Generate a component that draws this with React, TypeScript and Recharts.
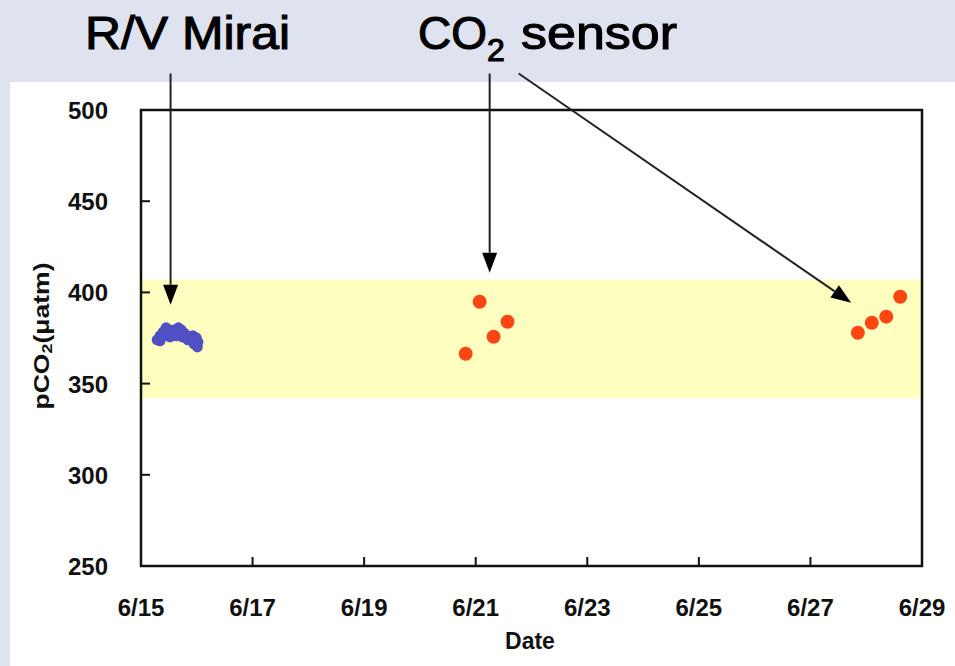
import React from "react";
import { ScatterChart, Scatter, XAxis, YAxis, ReferenceArea, ReferenceLine } from "recharts";

// ---- data ----
const xTickDays = [15, 17, 19, 21, 23, 25, 27, 29];
const xTickLabels = ["6/15", "6/17", "6/19", "6/21", "6/23", "6/25", "6/27", "6/29"];
const yTicks = [250, 300, 350, 400, 450, 500];

const miraiDays = [15.29, 15.34, 15.40, 15.45, 15.50, 15.56, 15.61, 15.67, 15.72, 15.77, 15.83, 15.88, 15.93, 15.99, 16.02, 16.01, 15.95, 15.34, 15.43, 15.52, 15.63, 15.74, 15.84, 15.92];
const miraiValues = [374.0, 376.2, 378.4, 380.6, 379.5, 379.0, 379.5, 380.6, 379.5, 377.8, 376.2, 375.6, 376.2, 375.1, 372.8, 370.1, 371.8, 373.5, 376.2, 375.6, 376.2, 375.6, 374.0, 373.5];

const sensorDays = [20.82, 21.07, 21.32, 21.57, 27.85, 28.10, 28.36, 28.61];
const sensorValues = [366.4, 394.9, 375.7, 383.9, 377.9, 383.4, 386.7, 397.6];

const bandLow = 342;
const bandHigh = 407;

// annotation arrows (data coordinates): start day, start value, end day, end value
const arrowStartDays = [15.53, 21.25, 21.77];
const arrowStartValues = [520, 520, 520];
const arrowEndDays = [15.53, 21.25, 27.73];
const arrowEndValues = [393.2, 410.8, 394.3];

const mirai = miraiDays.map((d, i) => ({ day: d, value: miraiValues[i] }));
const sensor = sensorDays.map((d, i) => ({ day: d, value: sensorValues[i] }));

const FONT = "'Liberation Sans', Arial, sans-serif";

const XTick = (props: any) => {
  const { x, y, payload } = props;
  const idx = xTickDays.indexOf(payload.value);
  return (
    <g>
      <line x1={x} y1={y} x2={x} y2={y - 9} stroke="#111" strokeWidth={2} />
      <text x={x} y={y + 50} textAnchor="middle" fontSize={24} fontWeight="bold" fontFamily={FONT} fill="#111">
        {idx >= 0 ? xTickLabels[idx] : payload.value}
      </text>
    </g>
  );
};

const YTick = (props: any) => {
  const { x, y, payload } = props;
  return (
    <g>
      <line x1={x} y1={y} x2={x + 9} y2={y} stroke="#111" strokeWidth={2} />
      <text x={x - 33} y={y + 9} textAnchor="end" fontSize={24} fontWeight="bold" fontFamily={FONT} fill="#111">
        {payload.value}
      </text>
    </g>
  );
};

const Arrow = (props: any) => {
  const { x1, y1, x2, y2 } = props;
  const dx = x2 - x1;
  const dy = y2 - y1;
  const len = Math.sqrt(dx * dx + dy * dy) || 1;
  const ux = dx / len;
  const uy = dy / len;
  const hl = 20;
  const hw = 7.5;
  const bx = x2 - ux * hl;
  const by = y2 - uy * hl;
  const pts = `${x2},${y2} ${bx - uy * hw},${by + ux * hw} ${bx + uy * hw},${by - ux * hw}`;
  return (
    <g>
      <line x1={x1} y1={y1} x2={bx} y2={by} stroke="#222" strokeWidth={2} />
      <polygon points={pts} fill="#000" />
    </g>
  );
};

const Dot = (color: string, r: number) => (props: any) => (
  <circle cx={props.cx} cy={props.cy} r={r} fill={color} />
);

export default function App() {
  return (
    <div style={{ position: "absolute", left: 0, top: 0, width: 955, height: 666, background: "#dfe3ef", overflow: "hidden" }}>
      <div style={{ position: "absolute", left: 10, top: 82, width: 945, height: 584, background: "#ffffff" }} />
      <div style={{ position: "absolute", left: 0, top: 0 }}>
        <ScatterChart width={955} height={666} margin={{ top: 110, right: 33, bottom: 0, left: 0 }}>
          <XAxis
            type="number"
            dataKey="day"
            domain={[15, 29]}
            ticks={xTickDays}
            interval={0}
            allowDataOverflow
            axisLine={false}
            tickLine={false}
            tickSize={0}
            tickMargin={0}
            tick={<XTick />}
            height={100}
          />
          <YAxis
            type="number"
            dataKey="value"
            domain={[250, 500]}
            ticks={yTicks}
            interval={0}
            allowDataOverflow
            axisLine={false}
            tickLine={false}
            tickSize={0}
            tickMargin={0}
            tick={<YTick />}
            width={141}
          />
          <ReferenceArea x1={15} x2={29} y1={bandLow} y2={bandHigh} fill="#ffffbf" fillOpacity={1} stroke="none" ifOverflow="visible" />
          <Scatter data={mirai} fill="#5050c4" shape={Dot("#5050c4", 5.5)} isAnimationActive={false} />
          <Scatter data={sensor} fill="#ff4612" shape={Dot("#ff4612", 7)} isAnimationActive={false} />
          <ReferenceArea x1={15} x2={29} y1={250} y2={500} fill="none" stroke="#111" strokeWidth={2.5} ifOverflow="visible" />
          {arrowStartDays.map((d, i) => (
            <ReferenceLine
              key={i}
              segment={[
                { x: d, y: arrowStartValues[i] },
                { x: arrowEndDays[i], y: arrowEndValues[i] },
              ]}
              ifOverflow="visible"
              shape={(p: any) => <Arrow {...p} />}
            />
          ))}
        </ScatterChart>
      </div>
      <svg style={{ position: "absolute", left: 0, top: 0 }} width={955} height={666}>
        <text x={85} y={49} fontSize={46} fontFamily={FONT} fill="#000" stroke="#000" strokeWidth={1.1} textLength={205} lengthAdjust="spacingAndGlyphs">
          R/V Mirai
        </text>
        <text x={418} y={49} fontSize={46} fontFamily={FONT} fill="#000" stroke="#000" strokeWidth={1.1}>
          <tspan textLength={69} lengthAdjust="spacingAndGlyphs">CO</tspan>
          <tspan dy={12} fontSize={32}>2</tspan>
          <tspan x={521} dy={-12} textLength={156} lengthAdjust="spacingAndGlyphs">sensor</tspan>
        </text>
        <text x={530} y={649} textAnchor="middle" fontSize={23} fontWeight="bold" fontFamily={FONT} fill="#111">Date</text>
        <g transform="translate(49,336) rotate(-90)">
          <text x={0} y={0} textAnchor="middle" fontSize={22} fontWeight="bold" fontFamily={FONT} fill="#111" textLength={147} lengthAdjust="spacingAndGlyphs">
            pCO<tspan fontSize={15} dy={3}>2</tspan><tspan dy={-3}>(μatm)</tspan>
          </text>
        </g>
      </svg>
    </div>
  );
}
